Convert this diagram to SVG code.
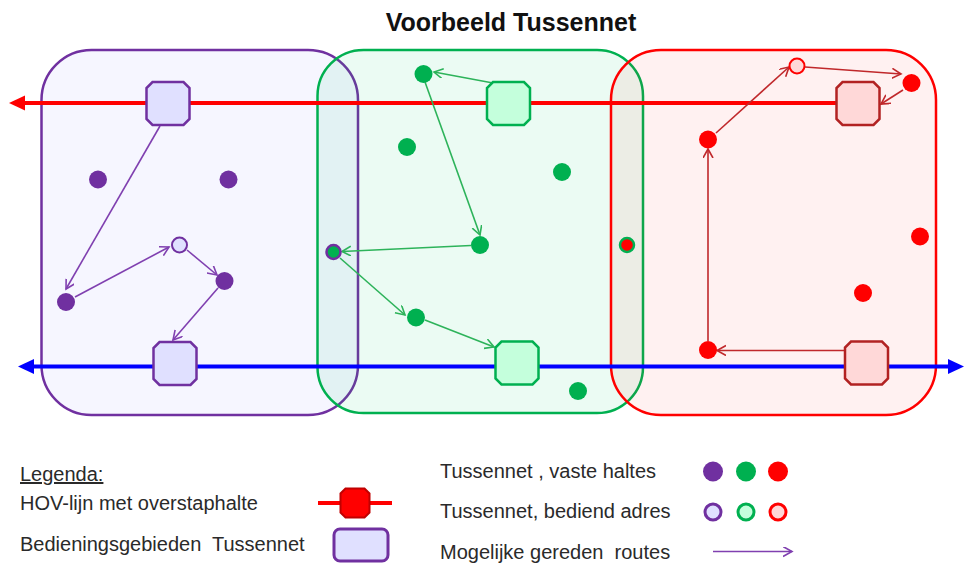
<svg xmlns="http://www.w3.org/2000/svg" width="964" height="565" viewBox="0 0 964 565">
<style>
text{font-family:"Liberation Sans",Arial,sans-serif;fill:#2a2a2a;white-space:pre}
.title{font-size:25px;font-weight:bold;fill:#111}
.leg{font-size:20px}
.box{stroke-width:2.5}
.st{stroke-width:2.5}
.rp{stroke:#8040B0;stroke-width:1.6;fill:none;marker-end:url(#ap)}
.rg{stroke:#2DB35A;stroke-width:1.6;fill:none;marker-end:url(#ag)}
.rr{stroke:#C0282B;stroke-width:1.6;fill:none;marker-end:url(#ar)}
</style>
<defs>
<path id="oct" d="M-15.5,-21.5 H15.5 L21.5,-15.5 V15.5 L15.5,21.5 H-15.5 L-21.5,15.5 V-15.5 Z"/>
<marker id="ap" markerUnits="userSpaceOnUse" markerWidth="12" markerHeight="12" refX="9" refY="5" orient="auto"><path d="M0,0 L9,5 L0,10" fill="none" stroke="#8040B0" stroke-width="1.6"/></marker>
<marker id="ag" markerUnits="userSpaceOnUse" markerWidth="12" markerHeight="12" refX="9" refY="5" orient="auto"><path d="M0,0 L9,5 L0,10" fill="none" stroke="#2DB35A" stroke-width="1.6"/></marker>
<marker id="ar" markerUnits="userSpaceOnUse" markerWidth="12" markerHeight="12" refX="9" refY="5" orient="auto"><path d="M0,0 L9,5 L0,10" fill="none" stroke="#C0282B" stroke-width="1.6"/></marker>
</defs>
<rect width="964" height="565" fill="#fff"/>
<text class="title" x="511" y="31" text-anchor="middle">Voorbeeld Tussennet</text>

<g id="area-purple"><rect class="box" x="41.5" y="50" width="316.5" height="365" rx="50" fill="#3333FF" fill-opacity="0.045" stroke="#7030A0"/></g>
<g id="area-green"><rect class="box" x="317.5" y="50" width="325.5" height="363" rx="46" fill="#00CC66" fill-opacity="0.08" stroke="#00B050"/></g>
<g id="area-red"><rect class="box" x="611" y="50" width="325" height="365" rx="50" fill="#FF0000" fill-opacity="0.055" stroke="#FF0000"/></g>

<g id="hov-lines">
<line x1="22" y1="103" x2="858" y2="103" stroke="#FF0000" stroke-width="4"/>
<path d="M9,103 L25,95.5 L25,110.5 Z" fill="#FF0000"/>
<line x1="31" y1="366.5" x2="952" y2="366.5" stroke="#0000FF" stroke-width="4"/>
<path d="M18,366.5 L34,359 L34,374 Z" fill="#0000FF"/>
<path d="M964,366.5 L948,359 L948,374 Z" fill="#0000FF"/>
</g>

<g id="connectors">
<line class="rp" x1="160" y1="126" x2="66" y2="289"/>
<line class="rp" x1="75" y1="297" x2="169" y2="247"/>
<line class="rp" x1="187" y1="250" x2="217" y2="275"/>
<line class="rp" x1="218" y1="288" x2="173" y2="340"/>
<line class="rg" x1="493" y1="83" x2="434" y2="72"/>
<line class="rg" x1="425" y1="82" x2="480" y2="235"/>
<line class="rg" x1="471" y1="245.5" x2="342" y2="251.5"/>
<line class="rg" x1="340" y1="258" x2="405" y2="315"/>
<line class="rg" x1="425" y1="320" x2="494" y2="347"/>
<line class="rr" x1="845" y1="350.5" x2="717" y2="350.5"/>
<line class="rr" x1="708" y1="341" x2="708" y2="149"/>
<line class="rr" x1="716" y1="133" x2="789" y2="67"/>
<line class="rr" x1="805" y1="67" x2="901" y2="74"/>
<line class="rr" x1="903" y1="90" x2="881" y2="104"/>
</g>

<g id="stations">
<use href="#oct" x="168" y="103.5" class="st" fill="#E0E0FF" stroke="#7030A0"/>
<use href="#oct" x="175" y="363.5" class="st" fill="#E0E0FF" stroke="#7030A0"/>
<use href="#oct" x="508.5" y="103.5" class="st" fill="#C4FFDC" stroke="#00B050"/>
<use href="#oct" x="517" y="363" class="st" fill="#C4FFDC" stroke="#00B050"/>
<use href="#oct" x="858" y="103.5" class="st" fill="#FFD8D8" stroke="#B22222"/>
<use href="#oct" x="866.5" y="363" class="st" fill="#FFD8D8" stroke="#B22222"/>
</g>

<g id="stops-purple" fill="#7030A0">
<circle cx="98" cy="179.5" r="9"/>
<circle cx="228.5" cy="179.5" r="9"/>
<circle cx="66" cy="302" r="9"/>
<circle cx="224.5" cy="281" r="9"/>
<circle cx="179.5" cy="245" r="7.5" fill="#E0E0FF" stroke="#7030A0" stroke-width="2"/>
</g>
<g id="stops-green" fill="#00B050">
<circle cx="423.5" cy="74" r="9"/>
<circle cx="407" cy="147" r="9"/>
<circle cx="562" cy="172" r="9"/>
<circle cx="480" cy="245" r="9"/>
<circle cx="416" cy="317.5" r="9"/>
<circle cx="578" cy="391" r="9"/>
<circle cx="333.5" cy="252" r="7" stroke="#7030A0" stroke-width="2.5"/>
</g>
<g id="stops-red" fill="#FF0000">
<circle cx="911.5" cy="83" r="9"/>
<circle cx="708" cy="139.5" r="9"/>
<circle cx="920" cy="236.5" r="9"/>
<circle cx="863" cy="293" r="9"/>
<circle cx="708" cy="350" r="9"/>
<circle cx="627" cy="245" r="7" stroke="#00B050" stroke-width="2.5"/>
<circle cx="797" cy="66" r="7.5" fill="#FFD8D8" stroke="#FF0000" stroke-width="2"/>
</g>

<g id="legend">
<text class="leg" x="20" y="481" text-decoration="underline">Legenda:</text>
<text class="leg" x="20" y="510">HOV-lijn met overstaphalte</text>
<text class="leg" x="20" y="551">Bedieningsgebieden  Tussennet</text>
<line x1="318" y1="503" x2="392" y2="503" stroke="#FF0000" stroke-width="4"/>
<path d="M345.5,488.5 H364.5 L369.5,493.5 V512.5 L364.5,517.5 H345.5 L340.5,512.5 V493.5 Z" fill="#FF0000" stroke="#C00000" stroke-width="2"/>
<rect x="334" y="529" width="54" height="32" rx="6" fill="#E0E0FF" stroke="#7030A0" stroke-width="3"/>
<text class="leg" x="440" y="478">Tussennet , vaste haltes</text>
<text class="leg" x="440" y="518">Tussennet, bediend adres</text>
<text class="leg" x="440" y="559">Mogelijke gereden  routes</text>
<circle cx="713" cy="471.5" r="10" fill="#7030A0"/>
<circle cx="746" cy="471.5" r="10" fill="#00B050"/>
<circle cx="778" cy="471.5" r="10" fill="#FF0000"/>
<circle cx="713" cy="512" r="8" fill="#E0E0FF" stroke="#7030A0" stroke-width="3"/>
<circle cx="746" cy="512" r="8" fill="#C4FFDC" stroke="#00B050" stroke-width="3"/>
<circle cx="778" cy="512" r="8" fill="#FFD8D8" stroke="#FF0000" stroke-width="3"/>
<line class="rp" x1="713" y1="551.5" x2="792" y2="551.5"/>
</g>
</svg>
